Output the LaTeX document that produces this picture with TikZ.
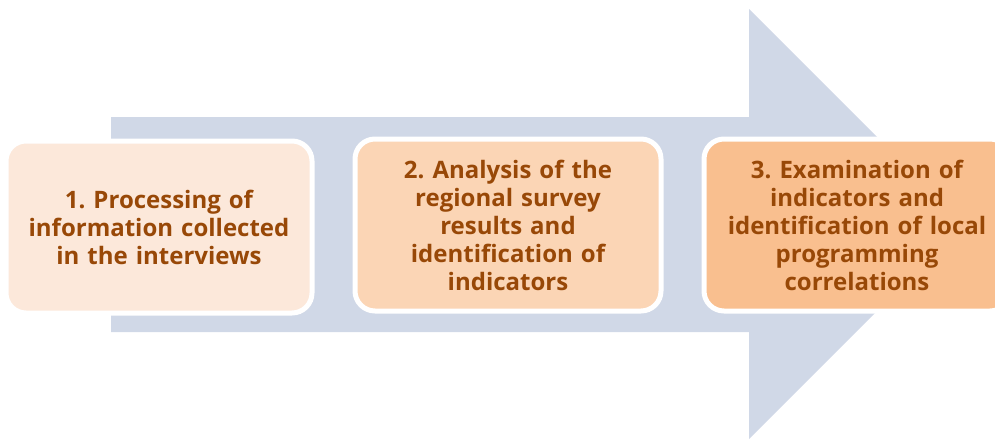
\documentclass[tikz,border=0pt]{standalone}
\usepackage{fontspec}
\setmainfont{Open Sans}
\frenchspacing
\definecolor{arrowblue}{HTML}{D0D8E7}
\definecolor{peachA}{HTML}{FCE8DA}
\definecolor{peachB}{HTML}{FBD5B5}
\definecolor{peachC}{HTML}{F9BF8F}
\definecolor{brown}{HTML}{984807}
\tikzset{
  stepbox/.style={draw=white, line width=5pt, rounded corners=20pt,
    minimum width=306pt, minimum height=172pt, text width=298pt,
    align=center, text=brown,
    font=\fontsize{24}{28}\selectfont\bfseries}
}
\begin{document}
\begin{tikzpicture}[x=1pt,y=-1pt]
         \useasboundingbox (0,0) rectangle (995,439);
         %freccia
         \fill[arrowblue] (111,117) -- (749,117) -- (749,9) -- (964,224) -- (749,439) -- (749,332) -- (111,332) -- cycle;
         %passi
         \node[stepbox, fill=peachA] (b1) at (159,227) {1. Processing of\\information collected\\in the interviews};
         \node[stepbox, fill=peachB] (b2) at (508,225) {2. Analysis of the\\regional survey\\results and\\identification of\\indicators};
         \node[stepbox, fill=peachC] (b3) at (857,225) {3. Examination of\\indicators and\\identification of local\\programming\\correlations};
       \end{tikzpicture}
\end{document}
